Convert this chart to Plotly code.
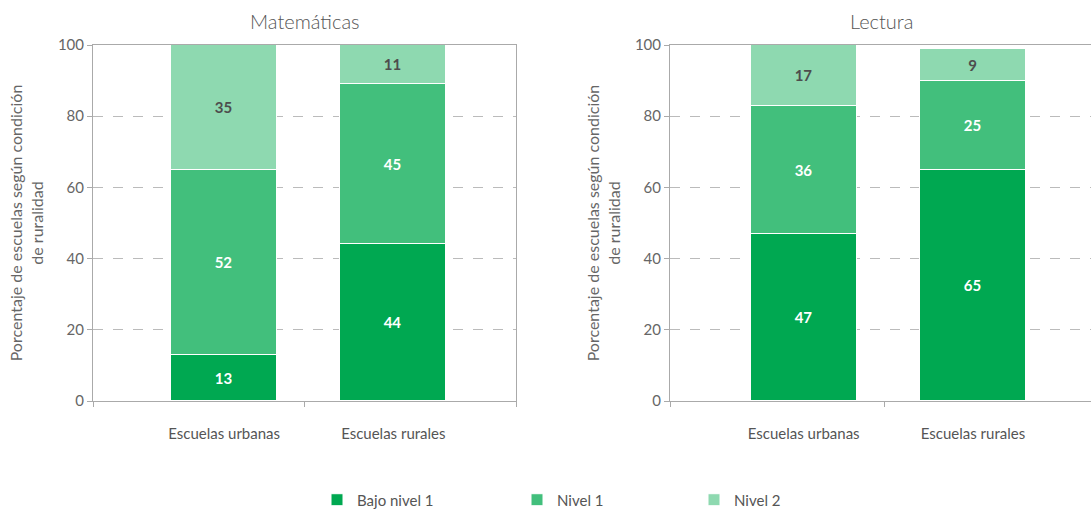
import plotly.graph_objects as go

# Categories and stacked shares (%) per subject
categorias = ["Escuelas urbanas", "Escuelas rurales"]
niveles = ["Bajo nivel 1", "Nivel 1", "Nivel 2"]

matematicas = {
    "Bajo nivel 1": [13, 44],
    "Nivel 1": [52, 45],
    "Nivel 2": [35, 11],
}
lectura = {
    "Bajo nivel 1": [47, 65],
    "Nivel 1": [36, 25],
    "Nivel 2": [17, 9],
}

y_ticks = [0, 20, 40, 60, 80, 100]

colores = {"Bajo nivel 1": "#00a851", "Nivel 1": "#42bf7c", "Nivel 2": "#8ed9b0"}
color_texto = {"Bajo nivel 1": "white", "Nivel 1": "white", "Nivel 2": "#4d4d4d"}

# Bar centres along each panel's [0, 1] axis
pos_barras = [0.31, 0.71]
ancho_barra = 0.25

FONT = "Lato, 'Open Sans', sans-serif"
GRIS = "#666666"
LINEA = "#aaaaaa"

fig = go.Figure()

legend_ids = {"Bajo nivel 1": "legend", "Nivel 1": "legend2", "Nivel 2": "legend3"}

for panel, datos, xa, ya in [(0, matematicas, "x", "y"), (1, lectura, "x2", "y2")]:
    for nivel in niveles:
        fig.add_trace(go.Bar(
            x=pos_barras,
            y=datos[nivel],
            width=ancho_barra,
            name=nivel,
            marker=dict(color=colores[nivel], line=dict(color="white", width=1)),
            text=datos[nivel],
            texttemplate="%{text}",
            textposition="inside",
            insidetextanchor="middle",
            textangle=0,
            textfont=dict(color=color_texto[nivel], size=15, family=FONT, weight="bold"),
            xaxis=xa, yaxis=ya,
            showlegend=(panel == 0),
            legend=legend_ids[nivel],
            hoverinfo="skip",
        ))

dom_izq = [93 / 1091, 516 / 1091]
dom_der = [670 / 1091, 1.0]

# Right panel is clipped by the page edge, so its range is shortened to keep the same scale
rango_izq = [0, 1]
rango_der = [-0.006, 0.989]

eje_x_base = dict(
    ticks="outside", ticklen=5, tickcolor=LINEA,
    showticklabels=False, showline=True, linecolor=LINEA, linewidth=1,
    showgrid=False, zeroline=False, fixedrange=True,
)
eje_x_etq = dict(
    tickvals=pos_barras, ticktext=categorias, ticks="",
    showline=False, showgrid=False, zeroline=False,
    tickfont=dict(size=15, color="#555555", family=FONT), ticklabelstandoff=22,
)
eje_y_base = dict(
    range=[0, 100], tickvals=y_ticks, ticks="outside", ticklen=5, tickcolor=LINEA,
    tickfont=dict(size=15, color=GRIS, family=FONT),
    showline=True, linecolor=LINEA, linewidth=1,
    showgrid=True, gridcolor="#bbbbbb", griddash="10px,10px", gridwidth=1,
    zeroline=False,
    title=dict(text="Porcentaje de escuelas según condición<br>de ruralidad",
               font=dict(size=16, color=GRIS, family=FONT), standoff=10),
)

leyenda = dict(y=-0.278, xanchor="left", yanchor="middle", orientation="h",
               font=dict(size=15, color="#555555", family=FONT))

fig.update_layout(
    width=1091, height=509,
    margin=dict(l=0, r=0, t=45, b=108, autoexpand=False),
    paper_bgcolor="white", plot_bgcolor="white",
    barmode="stack", bargap=0,
    font=dict(family=FONT, color=GRIS),
    xaxis=dict(**eje_x_base, range=rango_izq, tickvals=[0, 0.5, 1],
               domain=dom_izq, anchor="y", mirror=True),
    xaxis2=dict(**eje_x_base, range=rango_der, tickvals=[rango_der[0], 0.5],
                domain=dom_der, anchor="y2", mirror=True),
    xaxis3=dict(**eje_x_etq, range=rango_izq, overlaying="x", anchor="y", side="bottom"),
    xaxis4=dict(**eje_x_etq, range=rango_der, overlaying="x2", anchor="y2", side="bottom"),
    yaxis=dict(**eje_y_base, anchor="x", domain=[0, 1], mirror=True),
    yaxis2=dict(**eje_y_base, anchor="x2", domain=[0, 1]),
    annotations=[
        dict(text="Matemáticas", x=sum(dom_izq) / 2, y=1, xref="paper", yref="paper",
             xanchor="center", yanchor="bottom", yshift=10, showarrow=False,
             font=dict(size=20, color="#555555", family=FONT, weight=300)),
        dict(text="Lectura", x=(670 + 1093) / 2 / 1091, y=1, xref="paper", yref="paper",
             xanchor="center", yanchor="bottom", yshift=10, showarrow=False,
             font=dict(size=20, color="#555555", family=FONT, weight=300)),
    ],
    legend=dict(x=317 / 1091, **leyenda),
    legend2=dict(x=517 / 1091, **leyenda),
    legend3=dict(x=694 / 1091, **leyenda),
)

# The label axes need a dummy trace each so they are rendered
for xa, ya in [("x3", "y"), ("x4", "y2")]:
    fig.add_trace(go.Scatter(x=pos_barras, y=[None, None], xaxis=xa, yaxis=ya,
                             mode="markers", showlegend=False, hoverinfo="skip"))

fig.write_html("out.html")
